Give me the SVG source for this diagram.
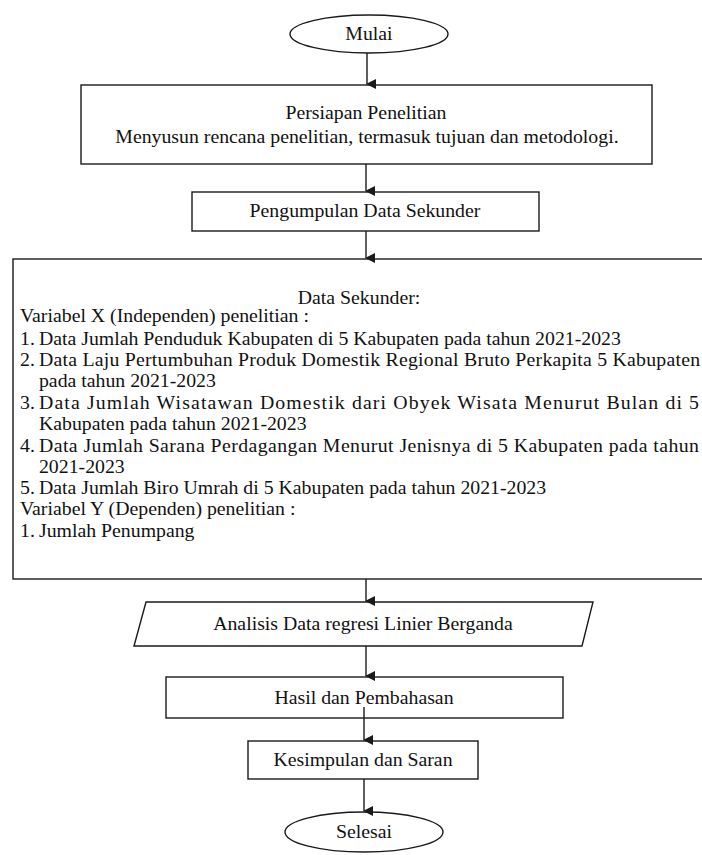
<svg xmlns="http://www.w3.org/2000/svg" width="702" height="855" viewBox="0 0 702 855">
<defs>
<marker id="ah" markerWidth="10" markerHeight="10" refX="5" refY="9" orient="auto" markerUnits="userSpaceOnUse" viewBox="0 0 10 10">
<path d="M0,0 L10,0 L5,10 Z" fill="#1a1a1a"/>
</marker>
<style>
.s{fill:#fff;stroke:#1a1a1a;stroke-width:1.4}
.e{stroke:#1a1a1a;stroke-width:1.4;fill:none}
</style>
</defs>
<rect width="702" height="855" fill="#fff"/>
<g id="mulai">
<ellipse class="s" cx="369" cy="34" rx="79" ry="19"/>
<text transform="scale(1.1 1)" font-family="'Liberation Serif', serif" font-size="18" fill="#111" x="335.45" y="40" text-anchor="middle">Mulai</text>
</g>
<g id="persiapan">
<rect class="s" x="81" y="85" width="571" height="79"/>
<text transform="scale(1.1 1)" font-family="'Liberation Serif', serif" font-size="18" fill="#111" text-anchor="middle" x="332.73" y="119">Persiapan Penelitian</text>
<text transform="scale(1.1 1)" font-family="'Liberation Serif', serif" font-size="18" fill="#111" text-anchor="middle" x="333.6" y="143">Menyusun rencana penelitian, termasuk tujuan dan metodologi.</text>
</g>
<g id="pengumpulan">
<rect class="s" x="192" y="192" width="347" height="39"/>
<text transform="scale(1.1 1)" font-family="'Liberation Serif', serif" font-size="18" fill="#111" x="331.8" y="217" text-anchor="middle">Pengumpulan Data Sekunder</text>
</g>
<g id="data">
<rect class="s" x="13" y="259" width="700" height="320"/>
<text transform="scale(1.1 1)" font-family="'Liberation Serif', serif" font-size="18" fill="#111" x="326.4" y="304" text-anchor="middle">Data Sekunder:</text>
<text transform="scale(1.1 1)" font-family="'Liberation Serif', serif" font-size="18" fill="#111" x="18.18" y="322">Variabel X (Independen) penelitian :</text>
<text transform="scale(1.1 1)" font-family="'Liberation Serif', serif" font-size="18" fill="#111" x="18.18" y="345">1.</text>
<text transform="scale(1.1 1)" font-family="'Liberation Serif', serif" font-size="18" fill="#111" x="35.45" y="345">Data Jumlah Penduduk Kabupaten di 5 Kabupaten pada tahun 2021-2023</text>
<text transform="scale(1.1 1)" font-family="'Liberation Serif', serif" font-size="18" fill="#111" x="18.18" y="366">2.</text>
<text transform="scale(1.1 1)" font-family="'Liberation Serif', serif" font-size="18" fill="#111" x="35.45" y="366" textLength="601" lengthAdjust="spacing">Data Laju Pertumbuhan Produk Domestik Regional Bruto Perkapita 5 Kabupaten</text>
<text transform="scale(1.1 1)" font-family="'Liberation Serif', serif" font-size="18" fill="#111" x="35.45" y="387">pada tahun 2021-2023</text>
<text transform="scale(1.1 1)" font-family="'Liberation Serif', serif" font-size="18" fill="#111" x="18.18" y="409">3.</text>
<text transform="scale(1.1 1)" font-family="'Liberation Serif', serif" font-size="18" fill="#111" x="35.45" y="409" textLength="600" lengthAdjust="spacing">Data Jumlah Wisatawan Domestik dari Obyek Wisata Menurut Bulan di 5</text>
<text transform="scale(1.1 1)" font-family="'Liberation Serif', serif" font-size="18" fill="#111" x="35.45" y="430">Kabupaten pada tahun 2021-2023</text>
<text transform="scale(1.1 1)" font-family="'Liberation Serif', serif" font-size="18" fill="#111" x="18.18" y="452">4.</text>
<text transform="scale(1.1 1)" font-family="'Liberation Serif', serif" font-size="18" fill="#111" x="35.45" y="452" textLength="600" lengthAdjust="spacing">Data Jumlah Sarana Perdagangan Menurut Jenisnya di 5 Kabupaten pada tahun</text>
<text transform="scale(1.1 1)" font-family="'Liberation Serif', serif" font-size="18" fill="#111" x="35.45" y="473">2021-2023</text>
<text transform="scale(1.1 1)" font-family="'Liberation Serif', serif" font-size="18" fill="#111" x="18.18" y="494">5.</text>
<text transform="scale(1.1 1)" font-family="'Liberation Serif', serif" font-size="18" fill="#111" x="35.45" y="494">Data Jumlah Biro Umrah di 5 Kabupaten pada tahun 2021-2023</text>
<text transform="scale(1.1 1)" font-family="'Liberation Serif', serif" font-size="18" fill="#111" x="18.18" y="515">Variabel Y (Dependen) penelitian :</text>
<text transform="scale(1.1 1)" font-family="'Liberation Serif', serif" font-size="18" fill="#111" x="18.18" y="537">1.</text>
<text transform="scale(1.1 1)" font-family="'Liberation Serif', serif" font-size="18" fill="#111" x="35.45" y="537">Jumlah Penumpang</text>
</g>
<g id="analisis">
<polygon class="s" points="146,602 593,602 582,646 134,646"/>
<text transform="scale(1.1 1)" font-family="'Liberation Serif', serif" font-size="18" fill="#111" x="330" y="630" text-anchor="middle">Analisis Data regresi Linier Berganda</text>
</g>
<g id="hasil">
<rect class="s" x="166" y="677" width="397" height="41"/>
<text transform="scale(1.1 1)" font-family="'Liberation Serif', serif" font-size="18" fill="#111" x="330.9" y="704" text-anchor="middle">Hasil dan Pembahasan</text>
</g>
<g id="kesimpulan">
<rect class="s" x="248" y="741" width="230" height="38"/>
<text transform="scale(1.1 1)" font-family="'Liberation Serif', serif" font-size="18" fill="#111" x="330" y="766" text-anchor="middle">Kesimpulan dan Saran</text>
</g>
<g id="selesai">
<ellipse class="s" cx="364" cy="832" rx="79" ry="20"/>
<text transform="scale(1.1 1)" font-family="'Liberation Serif', serif" font-size="18" fill="#111" x="330.9" y="838" text-anchor="middle">Selesai</text>
</g>
<g id="connectors">
<line class="e" x1="367" y1="53" x2="367" y2="84" marker-end="url(#ah)"/>
<line class="e" x1="366" y1="164" x2="366" y2="191" marker-end="url(#ah)"/>
<line class="e" x1="366" y1="231" x2="366" y2="258" marker-end="url(#ah)"/>
<line class="e" x1="366" y1="579" x2="366" y2="601" marker-end="url(#ah)"/>
<line class="e" x1="366" y1="646" x2="366" y2="676" marker-end="url(#ah)"/>
<line class="e" x1="364" y1="707" x2="364" y2="740" marker-end="url(#ah)"/>
<line class="e" x1="364" y1="779" x2="364" y2="811" marker-end="url(#ah)"/>
</g>
</svg>
